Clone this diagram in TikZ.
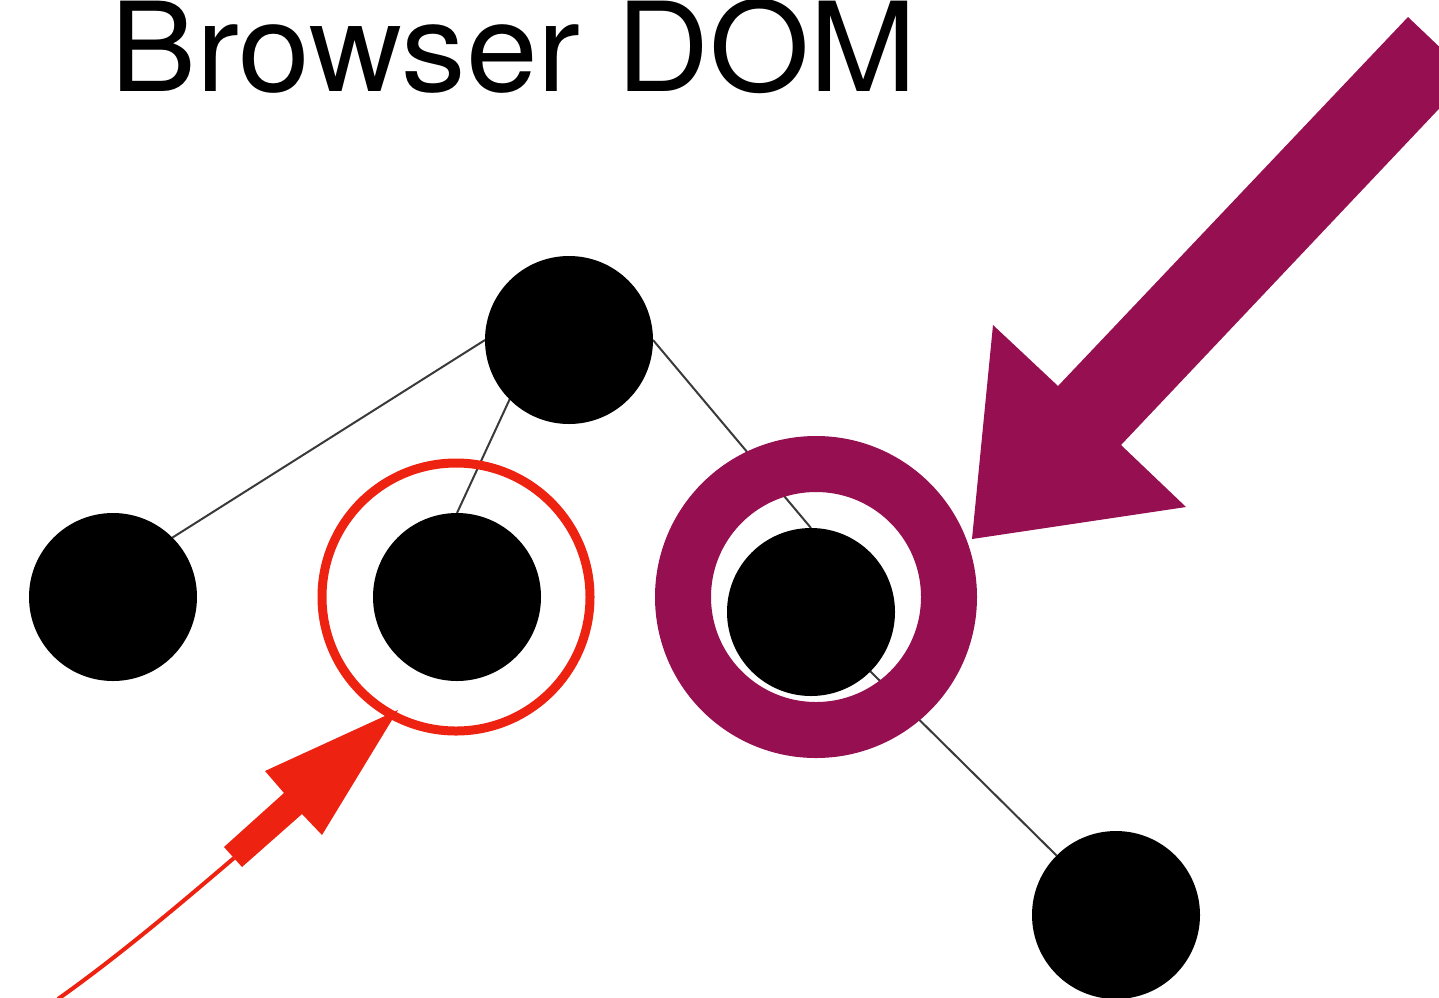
\documentclass[tikz,border=0pt]{standalone}
\usepackage{fontspec}
\setmainfont{TeX Gyre Heros}
\definecolor{plum}{HTML}{960F50}
\definecolor{hired}{HTML}{EE2211}
\definecolor{edgegray}{HTML}{3A3A3A}
\pgfdeclarelayer{edgelayer}
\pgfsetlayers{edgelayer,main}
\begin{document}
\begin{tikzpicture}[x=1pt,y=-1pt,
  dot/.style={circle,fill=black,minimum size=168pt,inner sep=0pt,outer sep=0pt},
  edge/.style={draw=edgegray,line width=2pt},
  redring/.style={circle,draw=hired,line width=9pt,minimum size=268pt,inner sep=0pt},
  plumring/.style={circle,draw=plum,line width=56pt,minimum size=266pt,inner sep=0pt},
]
\useasboundingbox (0,0) rectangle (1439,997);
\clip (0,0) rectangle (1439,997);

\node[anchor=base west,inner sep=0pt,font=\fontsize{124}{124}\selectfont] (title) at (110,91) {\scalebox{1.04}[1]{Browser DOM}};

% tree
\node[dot] (root) at (569,340) {};
\node[dot] (left) at (113,597) {};
\node[dot] (mid) at (457,597) {};
\node[dot] (right) at (811,612) {};
\node[dot] (leaf) at (1116,915) {};

\begin{pgfonlayer}{edgelayer}
\fill[white] (0,0) rectangle (1439,997);
\draw[edge] (root.west) -- (left.north east);
\draw[edge] (root.south west) -- (mid.north);
\draw[edge] (root.east) -- (right.north);
\draw[edge] (right.south east) -- (leaf.north west);
\end{pgfonlayer}

% highlight rings
\node[redring] (redc) at (456,597) {};
\node[plumring] (plumc) at (816,597) {};

% red arrow
\coordinate (rtail) at (58,999);
\coordinate (rjoin) at (234,858);
\draw[hired,line width=4pt] (rtail) .. controls (120,955) and (180,904) .. (rjoin);
\fill[hired] (224,847) -- (284,793) -- (265,771) -- (398,710) -- (322,835) -- (302,814) -- (242,867) -- cycle;

% plum arrow
\fill[plum] (1408,17) -- (1470,76) -- (1121,445) -- (1186,507) -- (972,539) -- (993,325) -- (1058,386) -- cycle;
\end{tikzpicture}
\end{document}
